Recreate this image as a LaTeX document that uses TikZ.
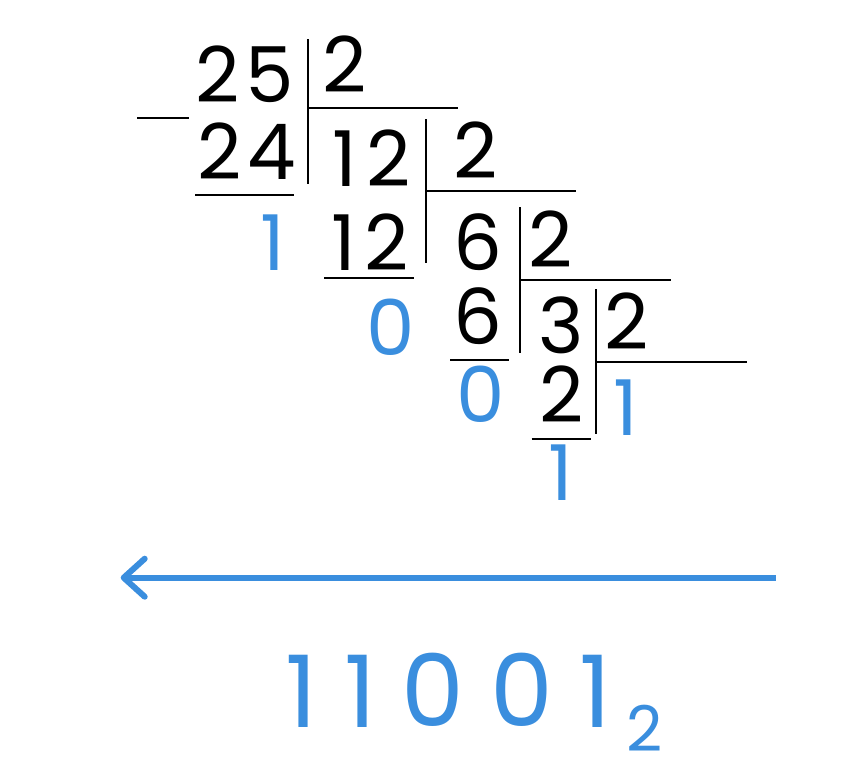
\documentclass[tikz,border=0pt]{standalone}
\usepackage{fontspec}
\setmainfont{Poppins}
\usepackage{xcolor}
\usetikzlibrary{positioning,arrows.meta}

\definecolor{bitblue}{RGB}{58,142,222}

\tikzset{
    digit/.style={anchor=base, inner sep=0pt, text depth=0pt, font=\fontsize{77}{80}\selectfont},
    bit/.style={digit, text=bitblue},
    rule/.style={line width=2pt},
}

\begin{document}
\begin{tikzpicture}[x=1pt, y=-1pt]
    \useasboundingbox (0,0) rectangle (867,766);

    % dividends, divisors and quotients
    \node (n25) [digit] at (245,102) {2\kern6pt5};
    \node (d1) [digit] at (345,92) {2};
    \node (s24) [digit] at (246.5,179) {2\kern6pt4};
    \node (q12) [digit] at (371.5,186.7) {1\kern9pt2};
    \node (d2) [digit] at (475.5,178) {2};
    \node (s12) [digit] at (370,270.7) {1\kern9pt2};
    \node (q6) [digit] at (478,270.7) {6};
    \node (d3) [digit] at (551,267) {2};
    \node (s6) [digit] at (478,344) {6};
    \node (q3) [digit] at (561,353) {3};
    \node (d4) [digit] at (627,349) {2};
    \node (s2) [digit] at (562,422.7) {2};

    % remainders
    \node (r1) [bit] at (273,270.7) {1};
    \node (r2) [bit] at (391,355.5) {0};
    \node (r3) [bit] at (481,422) {0};
    \node (r4) [bit] at (561,500) {1};
    \node (q1) [bit] at (626,435) {1};

    % bars and rules
    \draw[rule] (137,118) -- (189,118);
    \draw[rule] (307.7,39) -- (307.7,184);
    \draw[rule] (307.7,107.7) -- (458,107.7);
    \draw[rule] (195,195) -- (294,195);
    \draw[rule] (425.7,119.3) -- (425.7,263);
    \draw[rule] (425.7,191) -- (576,191);
    \draw[rule] (324,278) -- (414,278);
    \draw[rule] (520,207) -- (520,352.7);
    \draw[rule] (520,280) -- (670.7,280);
    \draw[rule] (450,360) -- (509,360);
    \draw[rule] (596,289.3) -- (596,434);
    \draw[rule] (596,362) -- (746.7,362);
    \draw[rule] (531.7,439.3) -- (591,439.3);

    % reading direction
    \coordinate (tail) at (775.7,577.7);
    \coordinate (head) at (120.7,577.7);
    \draw[bitblue, line width=6pt, -{Straight Barb[length=21pt, width=38pt, line width=6pt, round]}] (tail) -- (head);

    % result
    \node (b1) [bit, font=\fontsize{100}{104}\selectfont] at (301.5,727) {1};
    \node (b2) [bit, font=\fontsize{100}{104}\selectfont] at (360,727) {1};
    \node (b3) [bit, font=\fontsize{100}{104}\selectfont] at (433,726) {0};
    \node (b4) [bit, font=\fontsize{100}{104}\selectfont] at (522,726) {0};
    \node (b5) [bit, font=\fontsize{100}{104}\selectfont] at (595,727) {1};
    \node (base) [bit, font=\fontsize{63}{66}\selectfont] at (644.5,751.7) {2};
\end{tikzpicture}
\end{document}
